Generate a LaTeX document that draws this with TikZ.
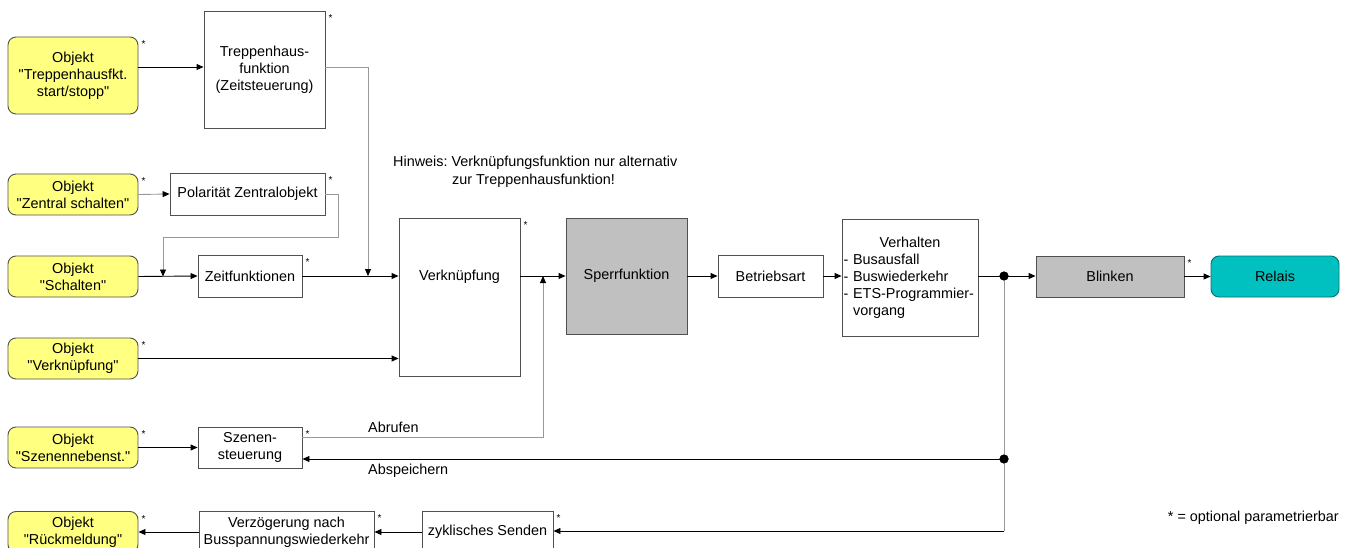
\documentclass[tikz,border=0pt]{standalone}
\usepackage{fontspec}
\setmainfont{Liberation Sans}[Ligatures=TeXOff]
\usetikzlibrary{arrows.meta,calc}
\definecolor{objyellow}{HTML}{FFFF80}
\definecolor{relteal}{HTML}{00C0C0}
\definecolor{blockgray}{HTML}{C0C0C0}
\definecolor{bordergray}{HTML}{505050}
\definecolor{linegray}{HTML}{999999}
\frenchspacing
\begin{document}
\begin{tikzpicture}[x=1pt,y=-1pt,
  font=\fontsize{14.4}{17}\selectfont,
  box/.style={draw=bordergray, line width=0.9pt, fill=white, inner sep=2pt, align=center},
  obj/.style={box, fill=objyellow, rounded corners=8pt, minimum width=130pt, minimum height=41pt},
  gblock/.style={box, fill=blockgray},
  starlab/.style={font=\fontsize{10}{10}\selectfont, inner sep=0pt, anchor=north west, xshift=3pt, yshift=-4pt},
  opt/.style={label={[starlab]north east:*}},
  arr/.style={-{Triangle[length=7pt,width=6pt,color=black]}, line width=0.9pt},
  garr/.style={arr, draw=linegray},
  gline/.style={line width=0.9pt, draw=linegray},
  bline/.style={line width=0.9pt},
  dot/.style={circle, fill=black, inner sep=0pt, minimum size=9pt},
  txt/.style={inner sep=0pt}
]
\useasboundingbox (0,0) rectangle (1362,548);

% objects
\node[obj, opt, minimum height=77pt] (o1) at (73,75.5) {Objekt\\"Treppenhausfkt.\\start/stopp"};
\node[obj, opt] (o2) at (73,194.5) {Objekt\\"Zentral schalten"};
\node[obj] (o3) at (73,276.5) {Objekt\\"Schalten"};
\node[obj, opt] (o4) at (73,358.5) {Objekt\\"Verknüpfung"};
\node[obj, opt] (o5) at (73,447.5) {Objekt\\"Szenennebenst."};
\node[obj, opt] (o6) at (73,532) {Objekt\\"Rückmeldung"};

% function blocks
\node[box, opt, minimum width=121pt, minimum height=117pt] (th) at (264.5,69.5) {Treppenhaus-\\funktion\\(Zeitsteuerung)};
\node[box, opt, minimum width=155pt, minimum height=42pt] (pol) at (247.5,194) {Polarität Zentralobjekt};
\node[box, opt, minimum width=104pt, minimum height=42pt] (zf) at (250,276) {Zeitfunktionen};
\node[box, opt, minimum width=121pt, minimum height=158pt] (vk) at (459.5,297) {};
\node[txt] (vkt) at (459.5,277) {Verknüpfung};
\node[gblock, minimum width=121pt, minimum height=116pt] (sp) at (626.5,276) {Sperrfunktion};
\node[box, minimum width=105pt, minimum height=42pt] (ba) at (770.5,276) {Betriebsart};
\node[box, minimum width=136pt, minimum height=117pt, text width=133pt, inner sep=1.5pt, align=left] (vh) at (910,278)
  {\centering Verhalten\par\raggedright -~Busausfall\\-~Buswiederkehr\\\mbox{-~ETS-Programmier-}\\\phantom{-~}vorgang};
\node[gblock, opt, minimum width=148pt, minimum height=41pt] (bl) at (1110,276.5) {Blinken};
\node[box, fill=relteal, draw=relteal!60!black, rounded corners=8pt, minimum width=128pt, minimum height=41pt] (re) at (1275,276.5) {Relais};
\node[box, opt, minimum width=104pt, minimum height=41pt] (sz) at (250,447.5) {Szenen-\\steuerung};
\node[box, opt, minimum width=175pt, minimum height=42pt] (vz) at (286.5,532) {Verzögerung nach\\Busspannungswiederkehr};
\node[box, opt, minimum width=131pt, minimum height=42pt] (zs) at (487.5,532) {zyklisches Senden};

% texts
\node[txt, anchor=north west, align=left, font=\fontsize{14.4}{18}\selectfont] (hint) at (393,156) {Hinweis: Verknüpfungsfunktion nur alternativ\\\hspace*{59pt}zur Treppenhausfunktion!};
\node[txt, anchor=west] (labab) at (368,427) {Abrufen};
\node[txt, anchor=west] (labsp) at (368,471) {Abspeichern};
\node[txt, anchor=east] (legend) at (1339,518) {* = optional parametrierbar};

% helper coordinates
\coordinate (c1) at (368,67);
\coordinate (c2) at (338,237);
\coordinate (c3) at (163,237);
\coordinate (c4) at (543,437);
\coordinate (c5) at (1004,531);

% connectors
\draw[arr] (o1.east |- c1) -- (th.west |- c1);
\draw[garr] (th.east |- c1) -- (c1) -- (c1 |- zf.east);
\draw[garr] (o2.east) -- (pol.west);
\draw[garr] (pol.east) -| (c2) -- (c3) -- (c3 |- o3.east);
\draw[arr] (o3.east) -- (zf.west);
\draw[arr] (zf.east) -- (zf.east -| vk.west);
\draw[arr] (o4.east) -- (o4.east -| vk.west);
\draw[arr] (o5.east) -- (sz.west);
\draw[arr] (vk.east |- sp.west) -- (sp.west);
\draw[garr] (sz.east |- c4) -- (c4) -- (c4 |- sp.west);
\draw[arr] (sp.east) -- (ba.west);
\draw[arr] (ba.east) -- (ba.east -| vh.west);
\node[dot] (d1) at (1004,276) {};
\node[dot] (d2) at (1004,459) {};
\draw[bline] (vh.east |- d1) -- (d1.center);
\draw[arr] (d1.center) -- (d1 -| bl.west);
\draw[gline] (d1.center) -- (c5);
\draw[arr] (d2.center) -- (d2 -| sz.east);
\draw[arr] (c5) -- (c5 -| zs.east);
\draw[arr] (zs.west) -- (vz.east);
\draw[arr] (vz.west) -- (o6.east);
\draw[arr] (bl.east) -- (re.west);
\node[dot] at (d1) {};
\node[dot] at (d2) {};
\end{tikzpicture}
\end{document}
